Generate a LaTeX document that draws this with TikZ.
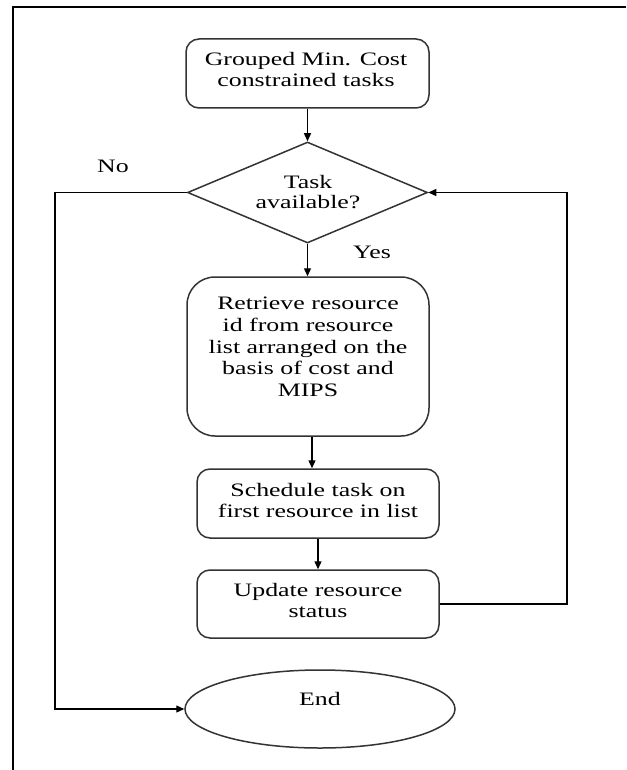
\documentclass[tikz,border=0pt]{standalone}
\usepackage{fontspec}
\setmainfont[FakeStretch=1.36]{Liberation Serif}
\usetikzlibrary{shapes.geometric,arrows.meta}
\begin{document}
\begin{tikzpicture}[x=1pt,y=-1pt,
  procbox/.style={draw=black!80, line width=1.5pt, rounded corners=13pt, inner sep=0pt},
  txt/.style={align=center, inner sep=0pt, font=\fontsize{19}{20.5}\selectfont},
  flow/.style={draw=black, line width=1.3pt, -{Triangle[length=8pt,width=7pt]}}]
\useasboundingbox (0,0) rectangle (626,770);
\fill[white] (0,0) rectangle (626,770);

% page frame
\draw[line width=2pt] (13,770) -- (13,7) -- (626,7);

% steps
\node[procbox, minimum width=243pt, minimum height=69pt] (start) at (307.5,73.5) {};
\node[txt] (startText) at (306,69.5) {Grouped Min. Cost\\constrained tasks};

\node[draw=black!80, line width=1.5pt, diamond, inner sep=0pt,
      minimum width=240pt, minimum height=101pt] (decide) at (307.5,192.5) {};
\node[txt] (decideText) at (308,192) {Task\\available?};

\node[procbox, rounded corners=28pt, minimum width=242pt, minimum height=159pt] (retrieve) at (308,356.5) {};
\node[txt, font=\fontsize{19}{21.7}\selectfont] (retrieveText) at (308,347)
  {Retrieve resource\\id from resource\\list arranged on the\\basis of cost and\\MIPS};

\node[procbox, minimum width=242pt, minimum height=69pt] (schedule) at (318,503.5) {};
\node[txt] (scheduleText) at (318,500.5) {Schedule task on\\first resource in list};

\node[procbox, minimum width=242pt, minimum height=68pt] (update) at (318,604) {};
\node[txt] (updateText) at (318,600.5) {Update resource\\status};

\node[draw=black!80, line width=1.5pt, ellipse, inner sep=0pt,
      minimum width=270pt, minimum height=78pt] (finish) at (320,709) {};
\node[txt] (finishText) at (320,699) {End};

% branch labels
\node[txt] (noLabel) at (113,166) {No};
\node[txt] (yesLabel) at (372,252) {Yes};

% routing columns
\coordinate (leftcol) at (55,400);
\coordinate (rightcol) at (567,400);

% connectors
\draw[flow] (start.south) -- (decide.north);
\draw[flow] (decide.south) -- (decide.south |- retrieve.north);
\draw[flow] ([xshift=4pt]retrieve.south) -- ([xshift=4pt]retrieve.south |- schedule.north);
\draw[flow] (schedule.south) -- (update.north);
\draw[flow] (update.east) -- (update.east -| rightcol) |- (decide.east);
\draw[flow] (decide.west) -- (decide.west -| leftcol) |- (finish.west);
\end{tikzpicture}
\end{document}
